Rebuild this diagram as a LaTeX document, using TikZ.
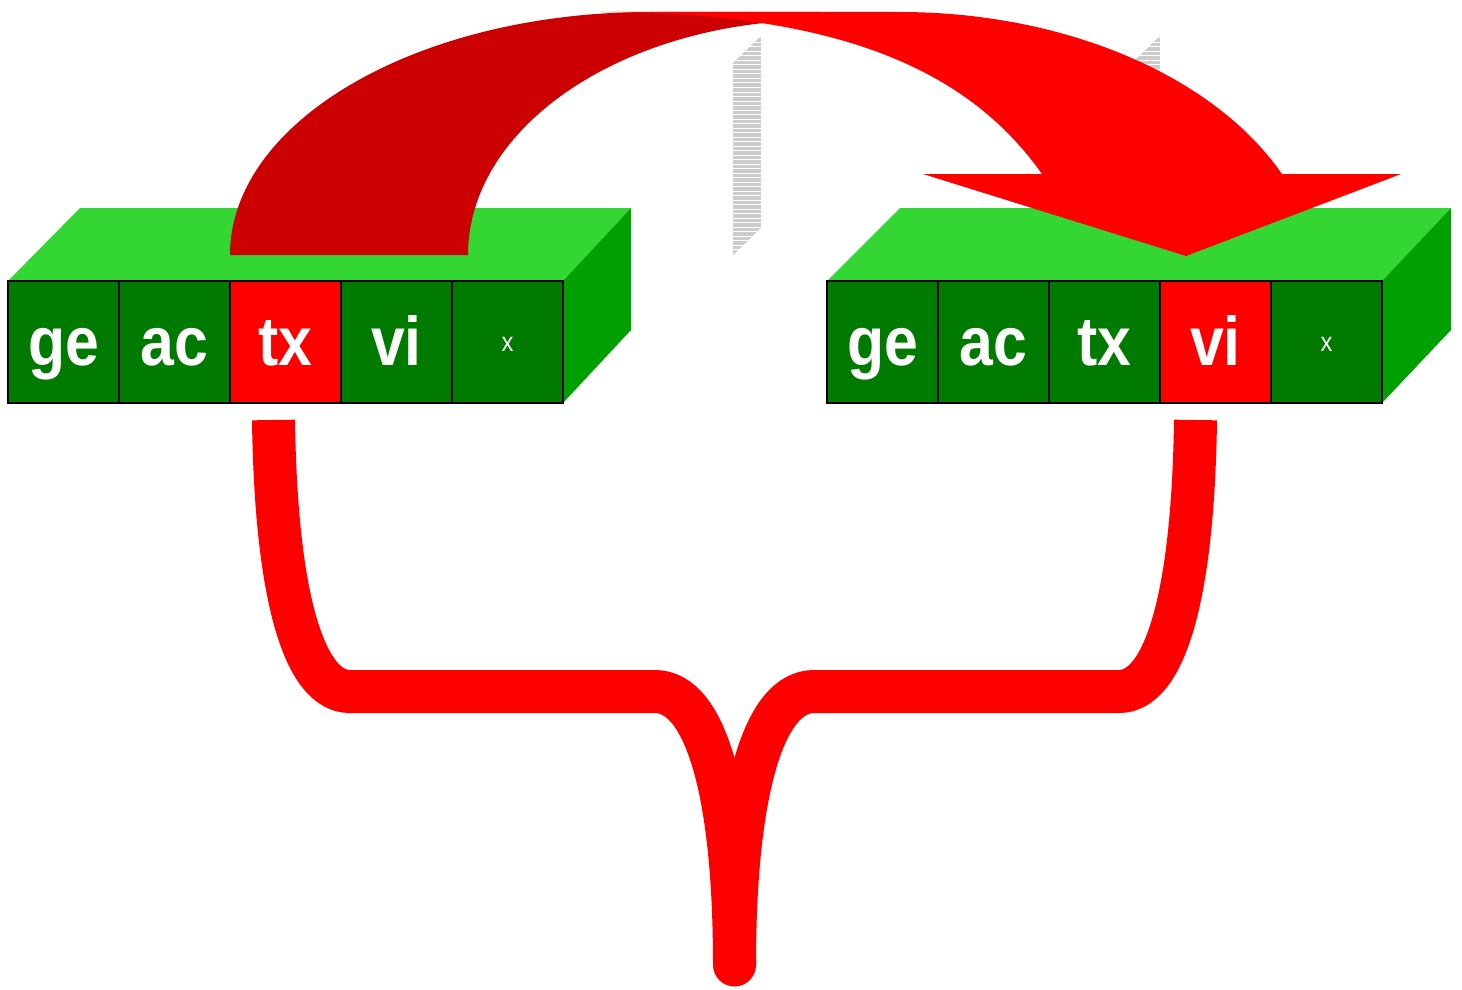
\documentclass[tikz,border=0pt]{standalone}
\usepackage{fontspec}
\setmainfont{Liberation Sans}
\usepackage{graphicx}
\definecolor{topgreen}{RGB}{51,214,51}
\definecolor{sidegreen}{RGB}{0,160,0}
\definecolor{cellgreen}{RGB}{0,122,0}
\definecolor{darkred}{RGB}{204,0,0}
\definecolor{brightred}{RGB}{255,0,0}
\definecolor{hatchgray}{RGB}{204,204,204}
\newcommand{\bigtxt}[1]{\scalebox{0.88}[1]{\fontsize{69}{69}\selectfont\bfseries #1}}
\newcommand{\smalltxt}[1]{\scalebox{0.88}[1]{\fontsize{27}{27}\selectfont #1}}
\tikzset{
  cell/.style={draw=black, line width=2pt, fill=cellgreen, minimum width=111pt,
    minimum height=122pt, inner sep=0pt, outer sep=0pt, text=white,
    text height=46pt, text depth=0pt},
  hot/.style={fill=brightred},
  smallcell/.style={text height=18pt},
  topface/.style={fill=topgreen},
  sideface/.style={fill=sidegreen},
  brace/.style={draw=brightred, line width=43pt, line cap=butt}
}
\begin{document}
\begin{tikzpicture}[x=1pt,y=-1pt]
\useasboundingbox (0,0) rectangle (1462,990);

% hatched stripes (behind the arrow)
\begin{scope}
  \clip (733,63) -- (761,36) -- (761,228) -- (733,255) -- cycle;
  \fill[hatchgray] (733,30) rectangle (761,260);
  \foreach \k in {0,...,50} \draw[white, line width=1pt] (733,38+4.5*\k) -- (761,38+4.5*\k);
\end{scope}
\begin{scope}
  \clip (1132,63) -- (1160,36) -- (1160,228) -- (1132,255) -- cycle;
  \fill[hatchgray] (1132,30) rectangle (1160,260);
  \foreach \k in {0,...,50} \draw[white, line width=1pt] (1132,38+4.5*\k) -- (1160,38+4.5*\k);
\end{scope}

% left box
\fill[topface] (8,281) -- (80,208) -- (631,208) -- (563,281) -- cycle;
\fill[sideface] (563,281) -- (631,208) -- (631,330) -- (563,403) -- cycle;
\node[cell] (L1) at (63.5,342) {\bigtxt{ge}};
\node[cell] (L2) at (174.5,342) {\bigtxt{ac}};
\node[cell,hot] (L3) at (285.5,342) {\bigtxt{tx}};
\node[cell] (L4) at (396.5,342) {\bigtxt{vi}};
\node[cell,smallcell] (L5) at (507.5,342) {\smalltxt{x}};

% right box
\fill[topface] (827,281) -- (900,208) -- (1451,208) -- (1382,281) -- cycle;
\fill[sideface] (1382,281) -- (1451,208) -- (1451,330) -- (1382,403) -- cycle;
\node[cell] (R1) at (882.5,342) {\bigtxt{ge}};
\node[cell] (R2) at (993.5,342) {\bigtxt{ac}};
\node[cell] (R3) at (1104.5,342) {\bigtxt{tx}};
\node[cell,hot] (R4) at (1215.5,342) {\bigtxt{vi}};
\node[cell,smallcell] (R5) at (1326.5,342) {\smalltxt{x}};

% big curved arrow: dark tail band
\fill[darkred] (230,255) .. controls (230,121) and (418,12) .. (650,12) -- (820,12) -- (820,20)
  .. controls (626,20) and (468,125) .. (468,255) -- cycle;
% bright arrow body and head
\fill[brightred] (600,12) -- (900,12)
  arc[start angle=-90, end angle=-24.56, x radius=420, y radius=277.3]
  -- (1401,174) -- (1186,256) -- (923,174) -- (1042,174)
  .. controls (972.6,76) and (850,12) .. (600,12) -- cycle;

% bottom brace
\coordinate (bl) at (273.5,420);
\coordinate (br) at (1195.5,420);
\coordinate (bm) at (734.5,965);
\draw[brace] (bl) .. controls (276,600) and (305,691.5) .. (350,691.5) -- (655,691.5)
  .. controls (705,691.5) and (734.5,790) .. (bm);
\draw[brace] (br) .. controls (1193,600) and (1164,691.5) .. (1119,691.5) -- (814,691.5)
  .. controls (764,691.5) and (734.5,790) .. (bm);
\fill[brightred] (bm) circle[radius=21.5];
\end{tikzpicture}
\end{document}
